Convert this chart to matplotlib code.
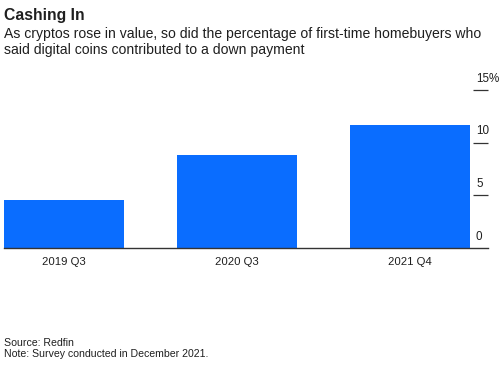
import matplotlib
matplotlib.use("Agg")
import matplotlib.pyplot as plt
import matplotlib.transforms as mtransforms

# data
quarters = ["2019 Q3", "2020 Q3", "2021 Q4"]
share_pct = [4.6, 8.8, 11.7]
ytick_vals = [0, 5, 10, 15]
ytick_labels = ["0", "5", "10", "15%"]

plt.rcParams['font.family'] = ['Liberation Sans', 'DejaVu Sans']
TXT = '#1f1f1f'


def main():
    fig = plt.figure(figsize=(5.0, 3.65), dpi=100)
    ax = fig.add_axes([0.008, 0.3205, 0.968, 0.4329])

    xs = range(len(quarters))
    ax.bar(xs, share_pct, width=0.694, color='#0a6dff', zorder=2)

    ax.set_xlim(-0.347, 2.451)
    ax.set_ylim(0, 15)

    for s in ['top', 'left', 'right']:
        ax.spines[s].set_visible(False)
    ax.spines['bottom'].set_color('#333333')
    ax.spines['bottom'].set_linewidth(1.0)

    ax.set_xticks(list(xs))
    ax.set_xticklabels(quarters, fontsize=8.2, color=TXT)
    ax.tick_params(axis='x', length=0, pad=6.5)

    # y ticks: short marks at the right edge, labels sitting above them
    ax.yaxis.tick_right()
    ax.set_yticks(ytick_vals[1:])
    ax.set_yticklabels([])
    ax.tick_params(axis='y', direction='in', length=11, width=0.9,
                   color='#333333', pad=0)
    trans = mtransforms.blended_transform_factory(ax.transAxes, ax.transData)
    for v, lab in zip(ytick_vals, ytick_labels):
        ax.text(0.9752, v + 0.5, lab, transform=trans, ha='left', va='bottom',
                fontsize=8.4, color=TXT)

    fig.text(0.008, 0.945, "Cashing In", fontsize=11.3, fontweight='bold',
             color=TXT, ha='left', va='baseline')
    fig.text(0.008, 0.897,
             "As cryptos rose in value, so did the percentage of first-time homebuyers who",
             fontsize=10.1, color=TXT, ha='left', va='baseline')
    fig.text(0.008, 0.852,
             "said digital coins contributed to a down payment",
             fontsize=10.1, color=TXT, ha='left', va='baseline')

    fig.text(0.008, 0.052, "Source: Redfin", fontsize=7.6, color=TXT,
             ha='left', va='baseline')
    fig.text(0.008, 0.022, "Note: Survey conducted in December 2021.",
             fontsize=7.6, color=TXT, ha='left', va='baseline')

    fig.savefig("out.png", dpi=100)


if __name__ == "__main__":
    main()
